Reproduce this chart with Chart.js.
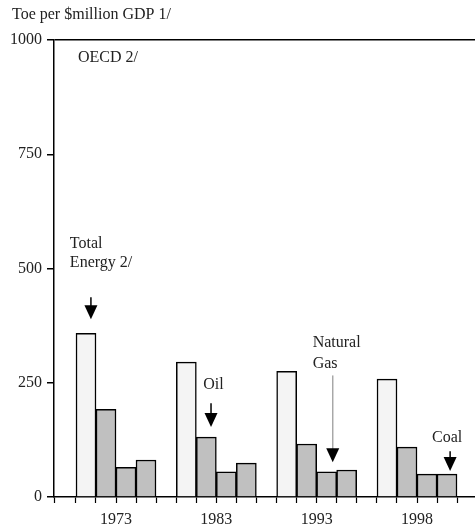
<!DOCTYPE html>
<html>
<head>
<meta charset="utf-8">
<script src="https://cdn.jsdelivr.net/npm/chart.js@4.4.1/dist/chart.umd.min.js"></script>
<style>
  html, body { margin: 0; padding: 0; background: #fff; }
  #wrap { width: 475px; height: 528px; }
</style>
</head>
<body>
<div id="wrap"><canvas id="c"></canvas></div>
<script>
// data
const years = ['1973', '1983', '1993', '1998'];
const totalEnergy = [358, 295, 275, 258];
const oil = [192, 131, 116, 109];
const naturalGas = [65, 55, 55, 50];
const coal = [81, 74, 59, 50];
const yTicks = [0, 250, 500, 750, 1000];

const FONT = '"Liberation Serif", "Times New Roman", serif';

// labels and arrows, placed in data units (x: group index, y: toe)
const notes = [
  { text: 'OECD 2/', x: -0.38, y: 961 },
  { text: 'Total', x: -0.46, y: 555 },
  { text: 'Energy 2/', x: -0.46, y: 513 },
  { text: 'Oil', x: 0.87, y: 245 },
  { text: 'Natural', x: 1.96, y: 338 },
  { text: 'Gas', x: 1.96, y: 292 },
  { text: 'Coal', x: 3.15, y: 129 },
];
const arrows = [
  { x: -0.25, from: 437, to: 389, shaft: '#000' },
  { x: 0.947, from: 205, to: 153, shaft: '#000' },
  { x: 2.16, from: 266, to: 76, shaft: '#a8a8a8' },
  { x: 3.33, from: 100, to: 57, shaft: '#000' },
];

const toPoints = arr => arr.map((v, i) => ({ x: i, y: v }));

const annotate = {
  id: 'annotate',
  afterDraw(chart) {
    const { ctx, scales: { x, y } } = chart;
    ctx.save();
    ctx.fillStyle = '#222';
    ctx.font = '16px ' + FONT;
    ctx.textBaseline = 'middle';
    ctx.textAlign = 'left';
    ctx.fillText('Toe per $million GDP 1/', 12, 15);
    notes.forEach(n => ctx.fillText(n.text, x.getPixelForValue(n.x), y.getPixelForValue(n.y)));

    arrows.forEach(a => {
      const px = x.getPixelForValue(a.x);
      const y0 = y.getPixelForValue(a.from);
      const y1 = y.getPixelForValue(a.to);
      ctx.strokeStyle = a.shaft;
      ctx.lineWidth = 1.5;
      ctx.beginPath();
      ctx.moveTo(px, y0);
      ctx.lineTo(px, y1 - 12);
      ctx.stroke();
      ctx.fillStyle = '#000';
      ctx.beginPath();
      ctx.moveTo(px - 6.5, y1 - 14);
      ctx.lineTo(px + 6.5, y1 - 14);
      ctx.lineTo(px, y1);
      ctx.closePath();
      ctx.fill();
    });
    ctx.restore();
  }
};

const barStyle = { borderColor: '#000', borderWidth: 1.5, barThickness: 20 };

new Chart(document.getElementById('c'), {
  type: 'bar',
  data: {
    datasets: [
      { label: 'Total Energy', data: toPoints(totalEnergy), backgroundColor: '#f4f4f4', ...barStyle },
      { label: 'Oil', data: toPoints(oil), backgroundColor: '#c0c0c0', ...barStyle },
      { label: 'Natural Gas', data: toPoints(naturalGas), backgroundColor: '#c0c0c0', ...barStyle },
      { label: 'Coal', data: toPoints(coal), backgroundColor: '#c0c0c0', ...barStyle },
    ]
  },
  options: {
    responsive: true,
    maintainAspectRatio: false,
    animation: false,
    layout: { padding: { top: 40, left: 0, right: 0, bottom: 0 } },
    plugins: { legend: { display: false }, tooltip: { enabled: false } },
    scales: {
      x: {
        type: 'linear', min: -0.618, max: 3.578, offset: false,
        afterBuildTicks: (scale) => {
          const t = [{ value: -0.618 }];
          for (let i = -2; i <= 17; i++) t.push({ value: Math.round(i * 20) / 100 });
          scale.ticks = t;
        },
        afterFit: (scale) => { scale.height = 31; },
        border: { display: true, color: '#000', width: 1.5 },
        grid: { offset: false, drawOnChartArea: false, tickLength: 6, tickColor: '#000', tickWidth: 1.2 },
        ticks: {
          autoSkip: false, maxRotation: 0, padding: 7, color: '#222',
          font: { family: FONT, size: 16 },
          callback: (v) => { const r = Math.round(v); return Math.abs(v - r) < 1e-6 && years[r] ? years[r] : ''; }
        }
      },
      y: {
        min: 0, max: 1000,
        afterBuildTicks: (scale) => { scale.ticks = yTicks.map(v => ({ value: v })); },
        afterFit: (scale) => { scale.width = 54; },
        border: { display: true, color: '#000', width: 1.5 },
        grid: { color: (c) => (c.tick && c.tick.value === 1000 ? '#000' : 'rgba(0,0,0,0)'), lineWidth: 1.5, tickColor: '#000', tickLength: 7 },
        ticks: { padding: 5, color: '#222', font: { family: FONT, size: 16 }, callback: v => String(v) }
      }
    }
  },
  plugins: [annotate]
});
</script>
</body>
</html>
